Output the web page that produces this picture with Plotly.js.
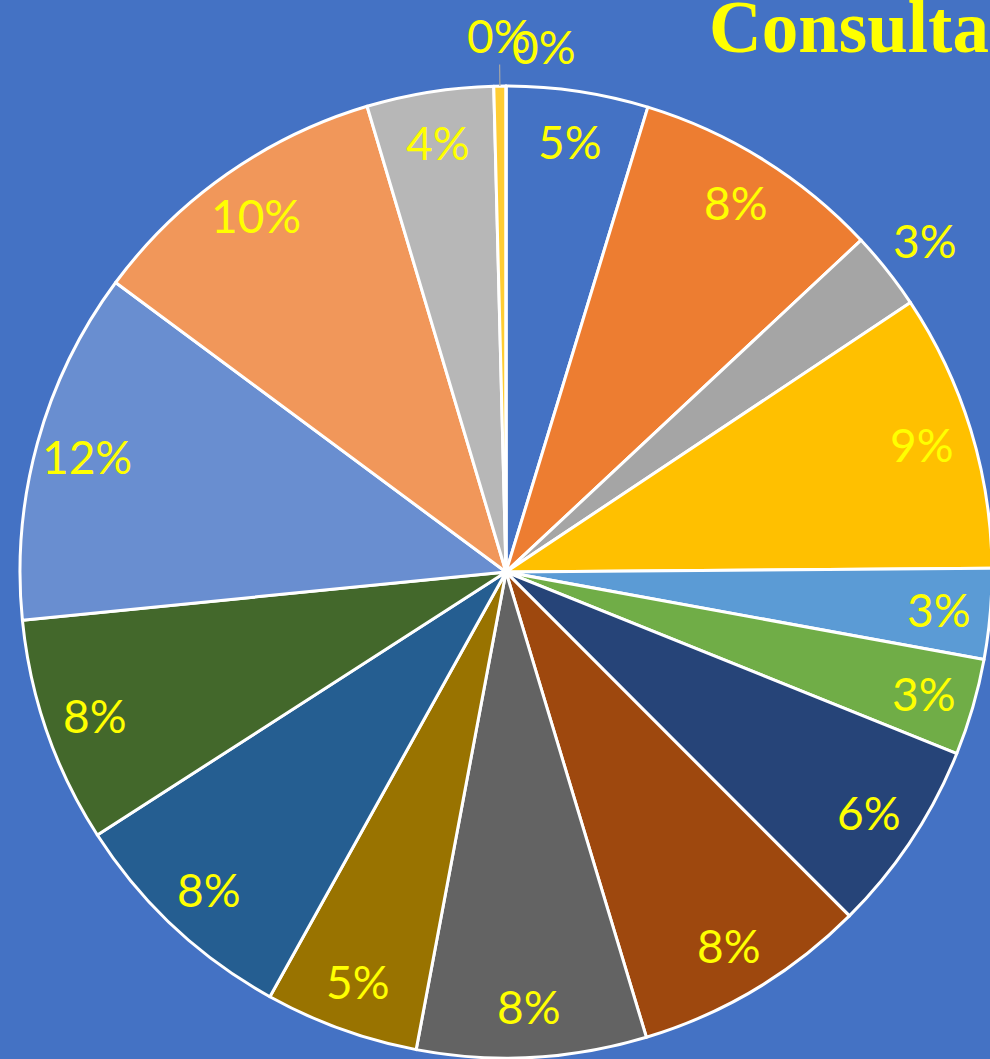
<!DOCTYPE html>
<html>
<head>
<meta charset="utf-8">
<script src="https://cdn.plot.ly/plotly-3.0.1.min.js"></script>
<style>
html,body{margin:0;padding:0;background:#4472C4;overflow:hidden;}
#chart{width:1000px;height:1059px;}
</style>
</head>
<body>
<div id="chart"></div>
<script>
// ---- data ----
var categories = ['C1','C2','C3','C4','C5','C6','C7','C8','C9','C10','C11','C12','C13','C14','C15','C16','C17'];
var values = [47, 83, 26, 92, 30, 32, 64, 78, 76, 51, 78, 75, 117, 102, 42, 4, 0];
var titleText = 'Consulta';

// ---- style ----
var colors = ['#4472C4','#ED7D31','#A5A5A5','#FFC000','#5B9BD5','#70AD47','#264478','#9E480E',
              '#636363','#997300','#255E91','#43682B','#698ED0','#F1975A','#B7B7B7','#FFCD33','#7CAFDD'];
var placement = ['in','in','out','in','in','in','in','in','in','in','in','in','in','in','in','lead','right'];
var W = 1000, H = 1059;
var CX = 506, CY = 572, R = 486;
var IN_R = 0.895, OUT_R = 1.1;
var labelFont = {family:'Lato, "Noto Sans", sans-serif', size:46, color:'#FFFF00'};

var total = values.reduce(function(a,b){return a+b;},0);

var trace = {
  type:'pie',
  labels:categories,
  values:values,
  sort:false,
  direction:'clockwise',
  rotation:0,
  textinfo:'none',
  textposition:'none',
  hoverinfo:'skip',
  marker:{colors:colors, line:{color:'#FFFFFF', width:3}},
  domain:{x:[(CX-R)/W,(CX+R)/W], y:[(H-CY-R)/H,(H-CY+R)/H]},
  showlegend:false
};

function px2paper(x,y){ return {x:x/W, y:1-y/H}; }

var annotations = [];
var cum = 0;
for (var i=0;i<values.length;i++){
  var v = values[i];
  var th = (cum + v/2)/total*2*Math.PI;
  cum += v;
  var pct = Math.round(v/total*100) + '%';
  var place = placement[i];
  var rr = (place==='in') ? IN_R*R : OUT_R*R;
  var lx = CX + rr*Math.sin(th), ly = CY - rr*Math.cos(th);
  var p = px2paper(lx,ly);
  if (place==='lead'){
    var ex = CX + R*Math.sin(th), ey = CY - R*Math.cos(th);
    var e = px2paper(ex,ey);
    annotations.push({xref:'paper',yref:'paper',x:e.x,y:e.y,text:pct,font:labelFont,
      showarrow:true,arrowhead:0,arrowwidth:1.2,arrowcolor:'#A5A5A5',
      axref:'pixel',ayref:'pixel',ax:lx-ex,ay:(ly-2)-ey,standoff:0,startstandoff:0});
  } else if (place==='right'){
    annotations.push({xref:'paper',yref:'paper',x:p.x,y:p.y,text:pct,font:labelFont,
      showarrow:false,xanchor:'left',yanchor:'middle',xshift:4,yshift:-9});
  } else {
    annotations.push({xref:'paper',yref:'paper',x:p.x,y:p.y,text:pct,font:labelFont,
      showarrow:false,xanchor:'center',yanchor:'middle'});
  }
}

annotations.push({xref:'paper',yref:'paper',x:707/W,y:1,xanchor:'left',yanchor:'top',
  text:'<b>'+titleText+'</b>',showarrow:false,yshift:15,
  font:{family:'"Liberation Serif", "Times New Roman", serif',size:73,color:'#FFFF00'}});

var layout = {
  width:W, height:H,
  margin:{l:0,r:0,t:0,b:0},
  paper_bgcolor:'#4472C4',
  plot_bgcolor:'#4472C4',
  showlegend:false,
  annotations:annotations
};

Plotly.newPlot('chart',[trace],layout,{displayModeBar:false,staticPlot:true});
</script>
</body>
</html>
